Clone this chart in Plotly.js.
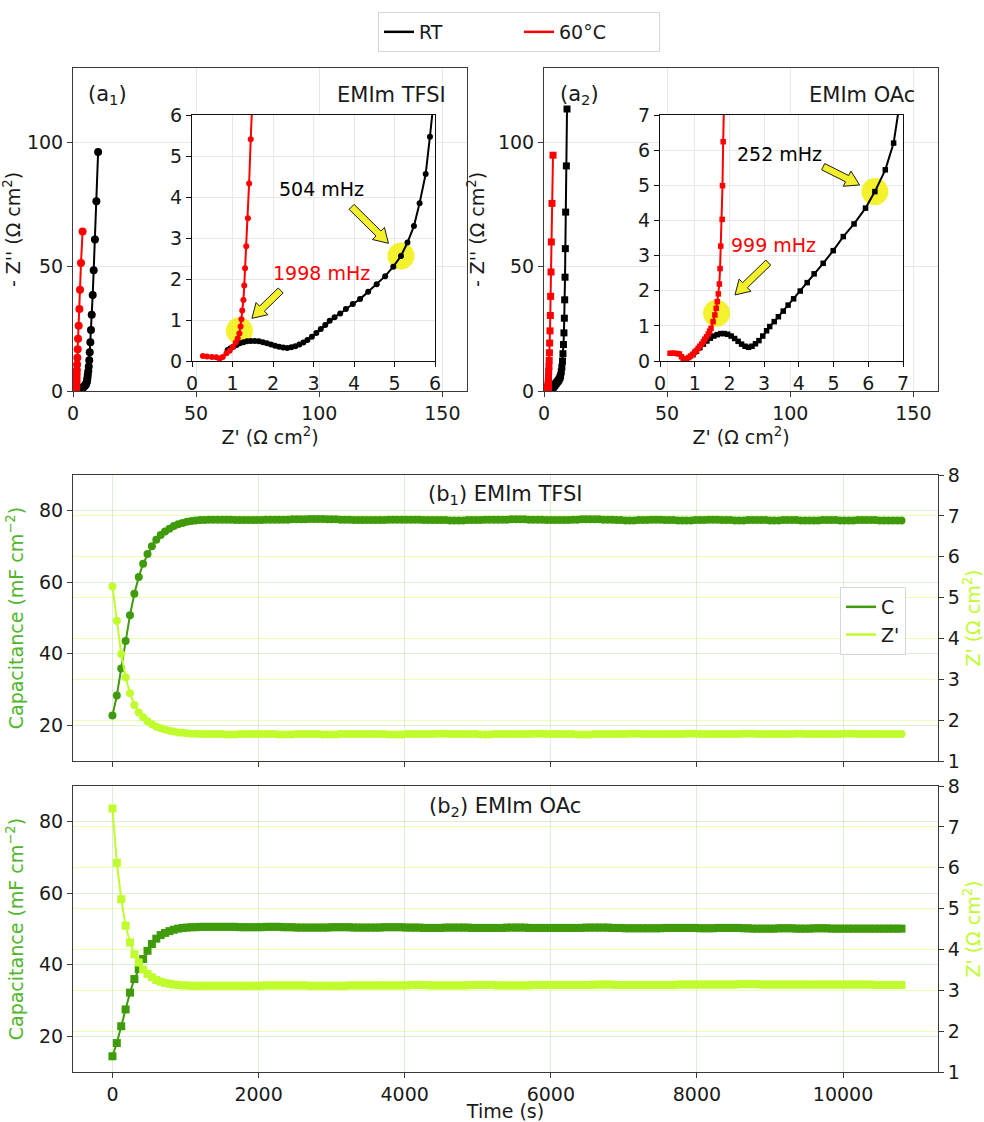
<!DOCTYPE html>
<html><head><meta charset="utf-8">
<script src="https://cdn.plot.ly/plotly-3.0.1.min.js"></script>
<style>html,body{margin:0;padding:0;background:#fff}#chart{width:984px;height:1122px}</style>
</head><body><div id="chart"></div>
<script>
// ---------- (a1) EMIm TFSI Nyquist data ----------
const a1RtX = [0.88,0.95,1.02,1.10,1.18,1.27,1.36,1.45,1.55,1.65,1.75,1.85,1.95,2.05,2.15,2.25,2.35,2.45,2.55,2.65,2.75,2.85,2.96,3.07,3.18,3.29,3.40,3.52,3.66,3.80,3.97,4.15,4.35,4.56,4.77,4.97,5.16,5.32,5.48,5.62,5.77,5.875,6.0,6.2,6.4,6.6,6.8,7.05,7.3,7.6,8.0,8.4,8.9,9.5,10.2];
const a1RtY = [0.27,0.31,0.35,0.39,0.43,0.46,0.48,0.49,0.49,0.48,0.46,0.43,0.40,0.37,0.35,0.33,0.32,0.335,0.36,0.40,0.45,0.51,0.59,0.68,0.78,0.88,0.98,1.07,1.16,1.27,1.39,1.51,1.69,1.87,2.07,2.30,2.56,2.89,3.29,3.85,4.56,5.47,6.5,7.9,9.9,12.4,15.6,19.6,24.6,30.7,38.6,48.6,61.0,76.4,96.2];
const a1HotX = [0.27,0.37,0.49,0.60,0.68,0.76,0.85,0.93,1.01,1.08,1.13,1.17,1.20,1.22,1.24,1.27,1.29,1.31,1.34,1.38,1.41,1.45,1.50,1.57,1.65,1.76,1.90,2.05,2.30,2.60,2.85,3.25,3.90];
const a1HotY = [0.12,0.11,0.10,0.09,0.06,0.10,0.19,0.25,0.35,0.45,0.55,0.67,0.84,1.02,1.23,1.49,1.84,2.26,2.80,3.48,4.33,5.41,6.8,8.5,10.7,13.4,16.8,21.0,26.3,33.0,40.8,51.5,64.2];
const a1MarkX = [5.16,1.17];
const a1MarkY = [2.56,0.74];
const a1Labels = ['504 mHz','1998 mHz'];

// ---------- (a2) EMIm OAc Nyquist data ----------
const a2RtX = [0.95,1.05,1.15,1.25,1.35,1.45,1.55,1.65,1.75,1.85,1.95,2.05,2.15,2.25,2.35,2.45,2.55,2.65,2.75,2.85,2.96,3.07,3.16,3.29,3.41,3.55,3.69,3.85,4.04,4.24,4.44,4.70,4.99,5.28,5.59,5.92,6.19,6.49,6.73,7.0,7.25,7.5,7.7,7.9,8.1,8.27,8.4,8.54,8.67,8.8,9.08,9.35];
const a2RtY = [0.18,0.28,0.38,0.48,0.57,0.65,0.71,0.75,0.78,0.78,0.76,0.71,0.64,0.56,0.48,0.42,0.39,0.42,0.49,0.58,0.71,0.86,0.98,1.12,1.26,1.42,1.59,1.77,1.99,2.23,2.48,2.78,3.14,3.54,3.90,4.35,4.82,5.44,6.2,7.7,9.6,12.0,15.0,18.7,23.4,29.3,36.7,45.8,57.3,72.0,90.6,113.5];
const a2HotX = [0.29,0.36,0.43,0.50,0.56,0.62,0.67,0.72,0.77,0.83,0.88,0.94,1.00,1.05,1.10,1.15,1.20,1.25,1.29,1.34,1.39,1.43,1.47,1.53,1.58,1.62,1.65,1.68,1.71,1.73,1.75,1.79,1.80,1.82,1.90,2.00,2.10,2.20,2.30,2.44,2.57,2.70,2.85,2.98,3.25,3.66];
const a2HotY = [0.22,0.22,0.22,0.21,0.20,0.12,0.07,0.05,0.06,0.10,0.14,0.19,0.25,0.30,0.36,0.42,0.48,0.55,0.62,0.69,0.77,0.85,0.93,1.12,1.31,1.50,1.69,1.91,2.19,2.63,3.27,4.03,4.99,6.24,7.8,9.8,12.3,15.4,19.3,24.2,30.4,38.1,47.9,60.0,75.5,94.9];
const a2MarkX = [6.19,1.63];
const a2MarkY = [4.82,1.36];
const a2Labels = ['252 mHz','999 mHz'];

// ---------- (b) time series ----------
const timeS = [0,60,120,180,240,300,360,420,480,540,600,660,720,780,840,900,960,1020,1080,1140,
1200,1260,1320,1380,1440,1500,1560,1620,1680,1740,1800,1860,1920,1980,2040,2100,2160,2220,2280,2340,
2400,2460,2520,2580,2640,2700,2760,2820,2880,2940,3000,3060,3120,3180,3240,3300,3360,3420,3480,3540,
3600,3660,3720,3780,3840,3900,3960,4020,4080,4140,4200,4260,4320,4380,4440,4500,4560,4620,4680,4740,
4800,4860,4920,4980,5040,5100,5160,5220,5280,5340,5400,5460,5520,5580,5640,5700,5760,5820,5880,5940,
6000,6060,6120,6180,6240,6300,6360,6420,6480,6540,6600,6660,6720,6780,6840,6900,6960,7020,7080,7140,
7200,7260,7320,7380,7440,7500,7560,7620,7680,7740,7800,7860,7920,7980,8040,8100,8160,8220,8280,8340,
8400,8460,8520,8580,8640,8700,8760,8820,8880,8940,9000,9060,9120,9180,9240,9300,9360,9420,9480,9540,
9600,9660,9720,9780,9840,9900,9960,10020,10080,10140,10200,10260,10320,10380,10440,10500,10560,10620,10680,10740,
10800];
const b1Cap = [22.7,28.3,35.9,43.6,50.8,56.8,61.5,65.2,67.9,70.1,71.9,73.2,74.2,75.0,75.7,76.2,76.6,76.9,77.1,77.3,
77.4,77.4,77.5,77.5,77.5,77.5,77.5,77.5,77.4,77.4,77.4,77.4,77.4,77.4,77.4,77.5,77.5,77.5,77.5,77.5,
77.5,77.6,77.6,77.6,77.6,77.7,77.7,77.7,77.7,77.6,77.6,77.6,77.5,77.5,77.5,77.4,77.4,77.4,77.4,77.4,
77.4,77.4,77.4,77.5,77.5,77.5,77.5,77.5,77.5,77.5,77.5,77.4,77.4,77.4,77.4,77.4,77.4,77.3,77.3,77.3,
77.3,77.4,77.4,77.4,77.4,77.5,77.5,77.5,77.5,77.5,77.5,77.6,77.6,77.6,77.6,77.5,77.5,77.5,77.5,77.4,
77.4,77.4,77.4,77.4,77.4,77.5,77.5,77.6,77.6,77.6,77.6,77.6,77.5,77.5,77.5,77.4,77.4,77.3,77.3,77.3,
77.4,77.4,77.4,77.5,77.5,77.5,77.4,77.4,77.4,77.3,77.3,77.3,77.3,77.4,77.4,77.4,77.5,77.5,77.5,77.4,
77.4,77.4,77.3,77.3,77.3,77.4,77.4,77.4,77.4,77.4,77.3,77.3,77.3,77.4,77.4,77.4,77.4,77.3,77.3,77.3,
77.3,77.3,77.4,77.4,77.4,77.4,77.3,77.3,77.3,77.3,77.4,77.4,77.4,77.4,77.4,77.3,77.3,77.3,77.3,77.3,
77.3];
const b1Zre = [5.27,4.43,3.62,3.05,2.66,2.37,2.19,2.07,1.97,1.90,1.84,1.80,1.77,1.74,1.72,1.70,1.69,1.68,1.67,1.67,
1.66,1.66,1.66,1.66,1.66,1.66,1.65,1.65,1.65,1.66,1.66,1.66,1.66,1.66,1.66,1.66,1.66,1.66,1.65,1.65,
1.65,1.65,1.66,1.66,1.66,1.66,1.66,1.66,1.65,1.65,1.65,1.65,1.66,1.66,1.66,1.66,1.66,1.66,1.66,1.66,
1.66,1.66,1.66,1.65,1.65,1.65,1.65,1.66,1.66,1.66,1.66,1.66,1.66,1.66,1.67,1.67,1.67,1.66,1.66,1.66,
1.66,1.66,1.66,1.66,1.65,1.65,1.65,1.66,1.66,1.66,1.66,1.66,1.66,1.66,1.66,1.66,1.67,1.67,1.67,1.66,
1.66,1.66,1.66,1.66,1.66,1.66,1.65,1.65,1.65,1.65,1.66,1.66,1.66,1.66,1.66,1.66,1.66,1.66,1.67,1.67,
1.67,1.66,1.66,1.66,1.66,1.66,1.66,1.66,1.66,1.66,1.66,1.67,1.67,1.67,1.66,1.66,1.66,1.66,1.66,1.66,
1.66,1.66,1.66,1.66,1.67,1.67,1.67,1.66,1.66,1.66,1.66,1.66,1.66,1.66,1.66,1.66,1.67,1.67,1.66,1.66,
1.66,1.66,1.66,1.66,1.66,1.66,1.66,1.67,1.67,1.67,1.66,1.66,1.66,1.66,1.66,1.66,1.66,1.66,1.66,1.66,
1.66];
const b2Cap = [14.4,18.1,22.8,27.5,32.2,36.0,38.8,41.6,43.9,45.8,47.3,48.3,48.9,49.4,49.8,50.1,50.3,50.4,50.5,50.5,
50.6,50.6,50.6,50.6,50.6,50.6,50.6,50.6,50.6,50.5,50.5,50.5,50.5,50.5,50.5,50.6,50.6,50.6,50.6,50.5,
50.5,50.5,50.4,50.4,50.4,50.4,50.4,50.4,50.4,50.4,50.5,50.5,50.5,50.5,50.5,50.4,50.4,50.4,50.4,50.4,
50.4,50.4,50.5,50.5,50.5,50.5,50.5,50.4,50.4,50.4,50.4,50.3,50.3,50.3,50.3,50.3,50.4,50.4,50.4,50.4,
50.4,50.4,50.3,50.3,50.3,50.3,50.3,50.3,50.3,50.3,50.4,50.4,50.4,50.4,50.4,50.3,50.3,50.3,50.3,50.3,
50.3,50.3,50.3,50.3,50.3,50.3,50.3,50.3,50.4,50.4,50.4,50.4,50.4,50.4,50.3,50.3,50.3,50.2,50.2,50.2,
50.2,50.2,50.2,50.2,50.2,50.2,50.3,50.3,50.3,50.3,50.3,50.3,50.3,50.3,50.2,50.2,50.2,50.2,50.3,50.3,
50.3,50.3,50.3,50.3,50.2,50.2,50.1,50.1,50.1,50.1,50.1,50.1,50.2,50.2,50.2,50.2,50.1,50.1,50.1,50.1,
50.2,50.2,50.2,50.2,50.1,50.1,50.1,50.1,50.1,50.1,50.1,50.1,50.1,50.1,50.1,50.1,50.1,50.1,50.1,50.1,
50.1];
const b2Zre = [7.45,6.12,5.23,4.58,4.17,3.88,3.68,3.51,3.40,3.32,3.25,3.21,3.18,3.16,3.14,3.13,3.12,3.12,3.11,3.11,
3.11,3.11,3.11,3.11,3.11,3.11,3.11,3.11,3.11,3.11,3.11,3.11,3.11,3.11,3.11,3.12,3.12,3.12,3.12,3.12,
3.12,3.12,3.12,3.12,3.12,3.11,3.11,3.11,3.11,3.11,3.11,3.11,3.11,3.11,3.12,3.12,3.12,3.12,3.12,3.12,
3.12,3.12,3.12,3.12,3.12,3.12,3.12,3.12,3.13,3.13,3.13,3.13,3.12,3.12,3.12,3.12,3.12,3.12,3.12,3.12,
3.12,3.12,3.13,3.13,3.13,3.13,3.13,3.13,3.12,3.12,3.12,3.12,3.12,3.12,3.12,3.12,3.13,3.13,3.13,3.13,
3.13,3.13,3.13,3.13,3.13,3.13,3.13,3.13,3.13,3.13,3.14,3.14,3.14,3.14,3.14,3.13,3.13,3.13,3.13,3.13,
3.13,3.13,3.13,3.13,3.13,3.13,3.13,3.13,3.13,3.14,3.14,3.14,3.14,3.14,3.14,3.14,3.14,3.14,3.14,3.14,
3.14,3.14,3.14,3.15,3.15,3.15,3.15,3.15,3.14,3.14,3.14,3.14,3.14,3.14,3.14,3.14,3.14,3.14,3.14,3.14,
3.14,3.14,3.14,3.14,3.14,3.14,3.14,3.14,3.14,3.14,3.14,3.14,3.14,3.14,3.13,3.13,3.13,3.13,3.13,3.13,
3.13];
const timeTicks = [0, 2000, 4000, 6000, 8000, 10000];

// ---------- styling ----------
const W = 984, H = 1122;
const FONT = 'DejaVu Sans, Verdana, sans-serif';
const BLACK = '#000000', RED = '#ff0000';
const CCOL = '#3f9b0b', ZCOL = '#c0fb2d';
const HL = 'rgba(242,238,0,0.82)';

function nyq(x, y, xa, ya, color, sym, size, name) {
  return {x, y, xaxis: xa, yaxis: ya, mode: 'lines+markers', name: name, showlegend: false,
    line: {color: color, width: 2}, marker: {color: color, size: size, symbol: sym}, hoverinfo: 'skip'};
}
function marks(x, y, xa, ya) {
  return {x, y, xaxis: xa, yaxis: ya, mode: 'markers', showlegend: false,
    marker: {color: HL, size: 27, line: {width: 0}}, hoverinfo: 'skip'};
}
function ts(x, y, xa, ya, color, sym, name) {
  return {x, y, xaxis: xa, yaxis: ya, mode: 'lines+markers', name: name, showlegend: false,
    line: {color: color, width: 2}, marker: {color: color, size: 8, symbol: sym}, hoverinfo: 'skip'};
}
function proxy(name, color, xa, ya, leg) {
  return {x: [null], y: [null], xaxis: xa, yaxis: ya, mode: 'lines', name: name, legend: leg,
    line: {color: color, width: 2.5}, showlegend: true, hoverinfo: 'skip'};
}

const traces = [
  nyq(a1RtX, a1RtY, 'x', 'y', BLACK, 'circle', 8, 'RT'),
  nyq(a1HotX, a1HotY, 'x', 'y', RED, 'circle', 8, '60°C'),
  marks(a1MarkX, a1MarkY, 'x2', 'y2'),
  nyq(a1RtX, a1RtY, 'x2', 'y2', BLACK, 'circle', 6, 'RT'),
  nyq(a1HotX, a1HotY, 'x2', 'y2', RED, 'circle', 6, '60°C'),
  nyq(a2RtX, a2RtY, 'x3', 'y3', BLACK, 'square', 7, 'RT'),
  nyq(a2HotX, a2HotY, 'x3', 'y3', RED, 'square', 7, '60°C'),
  marks(a2MarkX, a2MarkY, 'x4', 'y4'),
  nyq(a2RtX, a2RtY, 'x4', 'y4', BLACK, 'square', 5.5, 'RT'),
  nyq(a2HotX, a2HotY, 'x4', 'y4', RED, 'square', 5.5, '60°C'),
  ts(timeS, b1Cap, 'x5', 'y5', CCOL, 'circle', 'C'),
  ts(timeS, b1Zre, 'x5', 'y6', ZCOL, 'circle', "Z'"),
  ts(timeS, b2Cap, 'x6', 'y7', CCOL, 'square', 'C'),
  ts(timeS, b2Zre, 'x6', 'y8', ZCOL, 'square', "Z'"),
  proxy('RT', BLACK, 'x', 'y', 'legend'),
  proxy('60°C', RED, 'x', 'y', 'legend'),
  proxy('C', CCOL, 'x5', 'y5', 'legend2'),
  proxy("Z'", ZCOL, 'x5', 'y5', 'legend2')
];

const TF = {size: 19, color: '#1a1a1a'};
function ax(extra) {
  return Object.assign({showline: true, mirror: true, linecolor: '#3a3a3a', linewidth: 1,
    ticks: 'outside', ticklen: 5, tickcolor: '#3a3a3a', tickfont: TF, zeroline: false,
    showgrid: true, gridcolor: '#e8e8e8', gridwidth: 1, fixedrange: true}, extra);
}
const px = v => v / W, py = v => 1 - v / H;
const gG = 'rgba(63,155,11,0.17)', gZ = 'rgba(192,251,45,0.35)';

const layout = {
  width: W, height: H, autosize: false,
  margin: {l: 0, r: 0, t: 0, b: 0},
  paper_bgcolor: '#ffffff', plot_bgcolor: '#ffffff',
  font: {family: FONT, size: 19, color: '#1a1a1a'},
  xaxis: ax({domain: [px(73), px(467)], anchor: 'y', range: [0, 160], tickvals: [0, 50, 100, 150],
    title: {text: "Z' (Ω cm<sup>2</sup>)", font: {size: 19}, standoff: 4}}),
  yaxis: ax({domain: [py(391), py(68)], anchor: 'x', range: [0, 130], tickvals: [0, 50, 100],
    title: {text: "- Z'' (Ω cm<sup>2</sup>)", font: {size: 19}, standoff: 8}}),
  xaxis2: ax({domain: [px(192), px(435)], anchor: 'y2', range: [0, 6], dtick: 1, linecolor: '#111', tickcolor: '#111'}),
  yaxis2: ax({domain: [py(361), py(115)], anchor: 'x2', range: [0, 6], dtick: 1, linecolor: '#111', tickcolor: '#111'}),
  xaxis3: ax({domain: [px(544), px(938)], anchor: 'y3', range: [0, 160], tickvals: [0, 50, 100, 150],
    title: {text: "Z' (Ω cm<sup>2</sup>)", font: {size: 19}, standoff: 4}}),
  yaxis3: ax({domain: [py(391), py(68)], anchor: 'x3', range: [0, 130], tickvals: [0, 50, 100],
    title: {text: "- Z'' (Ω cm<sup>2</sup>)", font: {size: 19}, standoff: 8}}),
  xaxis4: ax({domain: [px(660), px(903)], anchor: 'y4', range: [0, 7], dtick: 1, linecolor: '#111', tickcolor: '#111'}),
  yaxis4: ax({domain: [py(361), py(115)], anchor: 'x4', range: [0, 7], dtick: 1, linecolor: '#111', tickcolor: '#111'}),
  xaxis5: ax({domain: [px(73), px(938)], anchor: 'y5', range: [-540, 11300],
    tickvals: timeTicks, showticklabels: false, gridcolor: gG}),
  yaxis5: ax({domain: [py(761), py(475)], anchor: 'x5', range: [10, 90], tickvals: [20, 40, 60, 80], gridcolor: gG,
    title: {text: 'Capacitance (mF cm<sup>−2</sup>)', font: {size: 19, color: '#50b62c'}, standoff: 10}}),
  yaxis6: ax({overlaying: 'y5', side: 'right', anchor: 'x5', range: [1, 8], dtick: 1, gridcolor: gZ, mirror: false,
    title: {text: "Z' (Ω cm<sup>2</sup>)", font: {size: 19, color: ZCOL}, standoff: 8}}),
  xaxis6: ax({domain: [px(73), px(938)], anchor: 'y7', range: [-540, 11300],
    tickvals: timeTicks, ticktext: timeTicks.map(String), gridcolor: gG,
    title: {text: 'Time (s)', font: {size: 19}, standoff: 4}}),
  yaxis7: ax({domain: [py(1072), py(786)], anchor: 'x6', range: [10, 90], tickvals: [20, 40, 60, 80], gridcolor: gG,
    title: {text: 'Capacitance (mF cm<sup>−2</sup>)', font: {size: 19, color: '#50b62c'}, standoff: 10}}),
  yaxis8: ax({overlaying: 'y7', side: 'right', anchor: 'x6', range: [1, 8], dtick: 1, gridcolor: gZ, mirror: false,
    title: {text: "Z' (Ω cm<sup>2</sup>)", font: {size: 19, color: ZCOL}, standoff: 8}}),
  showlegend: true,
  legend: {orientation: 'h', x: px(378), xanchor: 'left', y: py(12), yanchor: 'top',
    bgcolor: '#ffffff', bordercolor: '#d6d6d6', borderwidth: 1, font: {size: 19},
    entrywidth: 95, entrywidthmode: 'pixels', itemclick: false},
  legend2: {orientation: 'v', x: px(840), xanchor: 'left', y: py(587), yanchor: 'top',
    bgcolor: 'rgba(255,255,255,0.85)', bordercolor: '#d6d6d6', borderwidth: 1, font: {size: 19}},
  annotations: [],
  shapes: []
};

const A = layout.annotations;
function pText(text, x, y, xanchor, size) {
  A.push({text, x: px(x), y: py(y), xref: 'paper', yref: 'paper', xanchor, yanchor: 'middle', showarrow: false,
    font: {size: size || 21, color: '#1a1a1a'}});
}
pText('(a<sub>1</sub>)', 86, 95, 'left');
pText('EMIm TFSI', 448, 95, 'right');
pText('(a<sub>2</sub>)', 558, 95, 'left');
pText('EMIm OAc', 917, 95, 'right');
pText('(b<sub>1</sub>) EMIm TFSI', 505.5, 495, 'center');
pText('(b<sub>2</sub>) EMIm OAc', 505.5, 807, 'center');

A.push({text: a1Labels[0], x: 3.19, y: 4.19, xref: 'x2', yref: 'y2', showarrow: false, font: {size: 19, color: BLACK}});
A.push({text: a1Labels[1], x: 3.2, y: 2.14, xref: 'x2', yref: 'y2', showarrow: false, font: {size: 19, color: RED}});
A.push({text: a2Labels[0], x: 3.45, y: 5.88, xref: 'x4', yref: 'y4', showarrow: false, font: {size: 19, color: BLACK}});
A.push({text: a2Labels[1], x: 3.26, y: 3.3, xref: 'x4', yref: 'y4', showarrow: false, font: {size: 19, color: RED}});

function toPx(axis, v, isX) {
  const d = axis.domain, r = axis.range;
  const f = d[0] + (v - r[0]) / (r[1] - r[0]) * (d[1] - d[0]);
  return isX ? f * W : (1 - f) * H;
}
function blockArrow(xa, ya, x0, y0, x1, y1) {
  const X0 = toPx(xa, x0, true), Y0 = toPx(ya, y0, false), X1 = toPx(xa, x1, true), Y1 = toPx(ya, y1, false);
  const dx = X1 - X0, dy = Y1 - Y0, L = Math.hypot(dx, dy), ux = dx / L, uy = dy / L, nx = -uy, ny = ux;
  const sw = 3.5, hw = 8.5, hl = 14;
  const bx = X1 - ux * hl, by = Y1 - uy * hl;
  const pts = [[X0 + nx * sw, Y0 + ny * sw], [bx + nx * sw, by + ny * sw], [bx + nx * hw, by + ny * hw], [X1, Y1],
    [bx - nx * hw, by - ny * hw], [bx - nx * sw, by - ny * sw], [X0 - nx * sw, Y0 - ny * sw]];
  const path = 'M ' + pts.map(p => (p[0] / W).toFixed(5) + ',' + (1 - p[1] / H).toFixed(5)).join(' L ') + ' Z';
  return {type: 'path', xref: 'paper', yref: 'paper', path, fillcolor: '#f3ef2a', line: {color: '#1a1a1a', width: 1}};
}
layout.shapes.push(blockArrow(layout.xaxis2, layout.yaxis2, 3.94, 3.76, 4.85, 2.87));
layout.shapes.push(blockArrow(layout.xaxis2, layout.yaxis2, 2.19, 1.72, 1.48, 1.04));
layout.shapes.push(blockArrow(layout.xaxis4, layout.yaxis4, 4.7, 5.53, 5.75, 5.01));
layout.shapes.push(blockArrow(layout.xaxis4, layout.yaxis4, 3.12, 2.8, 2.16, 1.88));

Plotly.newPlot('chart', traces, layout, {displayModeBar: false, staticPlot: true});
</script></body></html>
